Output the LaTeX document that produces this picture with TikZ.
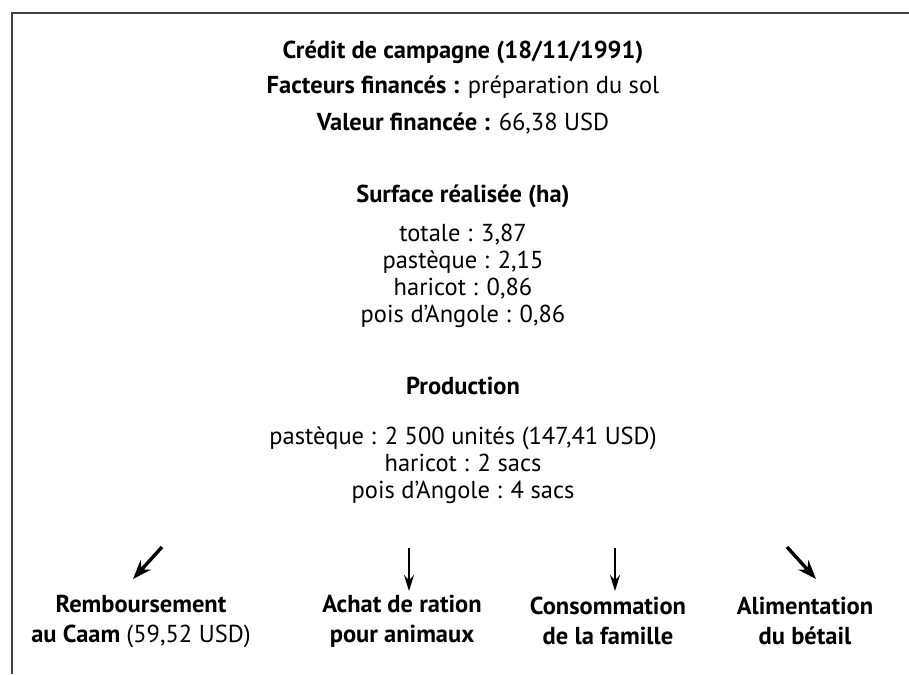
\documentclass[tikz,border=0pt]{standalone}
\usepackage{fontspec}
\setmainfont{PT Sans}
\usetikzlibrary{arrows.meta}
\tikzset{
  txt/.style={align=center,inner sep=0pt,font=\fontsize{24.5}{27}\selectfont},
  lbl/.style={align=center,inner sep=0pt,font=\fontsize{24.5}{30}\selectfont\bfseries},
  bigarrow/.style={-{Stealth[length=19pt,width=14pt]},line width=3.4pt},
  downarrow/.style={-{Stealth[length=16pt,width=10pt]},line width=2pt}
}
\begin{document}
\begin{tikzpicture}[x=1pt,y=-1pt]
      \useasboundingbox (0,0) rectangle (909,674);
      \draw[line width=2pt,black!75] (12,674) -- (12,13) -- (909,13);
      \draw
        (463,52) node[txt] (titre){\textbf{Crédit de campagne (18/11/1991)}}
        (463,87) node[txt] (facteurs){\textbf{Facteurs financés :} préparation du sol}
        (463,124) node[txt] (valeur){\textbf{Valeur financée :} 66,38 USD}
        (463,196) node[txt] (surface){\textbf{Surface réalisée (ha)}}
        (463,276) node[txt] (surfdet){totale : 3,87\\pastèque : 2,15\\haricot : 0,86\\pois d’Angole : 0,86}
        (463,386) node[txt] (prod){\textbf{Production}}
        (463,465) node[txt] (proddet){pastèque : 2 500 unités (147,41 USD)\\haricot : 2 sacs\\pois d’Angole : 4 sacs}
        (141,621) node[lbl] (remb){Remboursement\\au Caam \mdseries(59,52 USD)}
        (402,621) node[lbl] (achat){Achat de ration\\pour animaux}
        (608,621) node[lbl] (conso){Consommation\\de la famille}
        (805,621) node[lbl] (alim){Alimentation\\du bétail};
      \coordinate (d1) at (162,547);
      \coordinate (f1) at (133,579);
      \coordinate (d2) at (409,548);
      \coordinate (f2) at (409,591);
      \coordinate (d3) at (615,548);
      \coordinate (f3) at (615,591);
      \coordinate (d4) at (787,547);
      \coordinate (f4) at (816,579);
      \begin{scope}
        \draw[bigarrow] (d1) to (f1);
        \draw[downarrow] (d2) to (f2);
        \draw[downarrow] (d3) to (f3);
        \draw[bigarrow] (d4) to (f4);
      \end{scope}
    \end{tikzpicture}
\end{document}
